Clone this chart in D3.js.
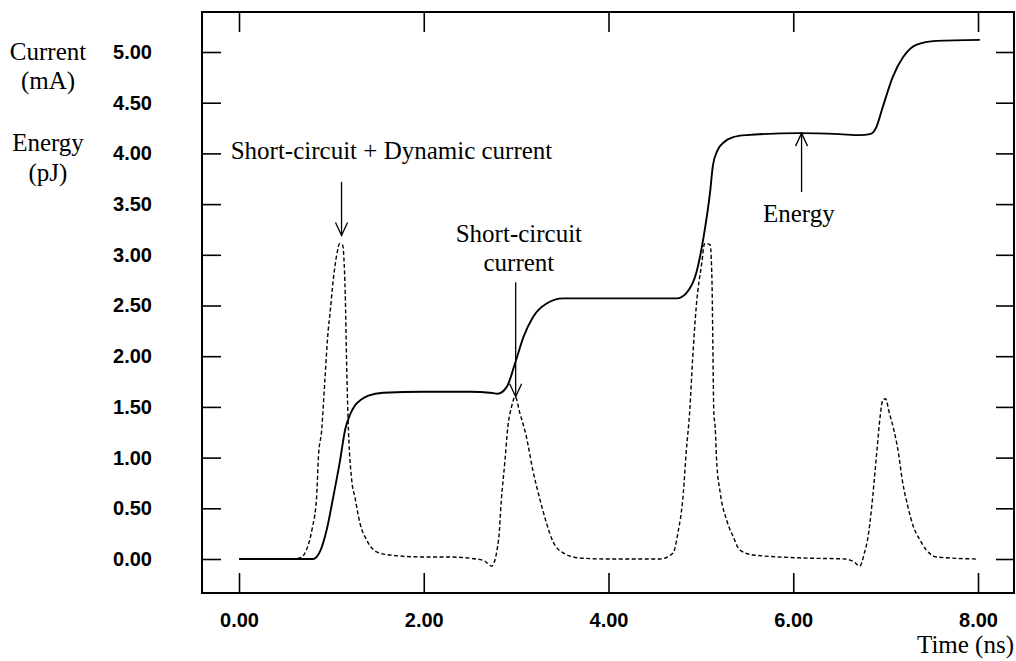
<!DOCTYPE html>
<html>
<head>
<meta charset="utf-8">
<script src="https://cdn.jsdelivr.net/npm/d3@7"></script>
<style>
html,body{margin:0;padding:0;background:#fff;}
svg{display:block;}
</style>
</head>
<body>
<svg id="chart" width="1016" height="661"></svg>
<script>
// ---- data ----
const xTicks = [0, 2, 4, 6, 8];
const yTicks = [0, 0.5, 1, 1.5, 2, 2.5, 3, 3.5, 4, 4.5, 5];

const energyT = [0, 0.8, 0.88, 0.95, 1.02, 1.09, 1.15, 1.20, 1.26, 1.32, 1.40, 1.56, 2.0, 2.5, 2.72, 2.80, 2.90, 2.995, 3.08, 3.185, 3.33, 3.51, 4.0, 4.5, 4.74, 4.84, 4.95, 5.03, 5.10, 5.13, 5.18, 5.25, 5.35, 5.49, 6.07, 6.5, 6.72, 6.83, 6.90, 6.97, 7.08, 7.19, 7.33, 7.55, 8.02];
const energyV = [0, 0, 0.08, 0.29, 0.61, 0.95, 1.28, 1.42, 1.52, 1.57, 1.61, 1.64, 1.65, 1.65, 1.64, 1.63, 1.70, 1.95, 2.19, 2.39, 2.52, 2.57, 2.57, 2.57, 2.57, 2.62, 2.82, 3.18, 3.62, 3.88, 4.03, 4.11, 4.16, 4.18, 4.20, 4.19, 4.18, 4.19, 4.26, 4.46, 4.76, 4.95, 5.07, 5.11, 5.12];

const currentT = [0, 0.58, 0.66, 0.73, 0.79, 0.84, 0.86, 0.895, 0.93, 0.966, 0.985, 1.02, 1.06, 1.09, 1.12, 1.15, 1.165, 1.18, 1.22, 1.255, 1.31, 1.38, 1.49, 1.63, 2.0, 2.25, 2.57, 2.66, 2.735, 2.81, 2.84, 2.88, 2.91, 2.95, 2.99, 3.04, 3.11, 3.18, 3.26, 3.33, 3.40, 3.51, 3.69, 4.0, 4.56, 4.70, 4.75, 4.81, 4.84, 4.88, 4.91, 4.95, 5.01, 5.04, 5.10, 5.12, 5.13, 5.14, 5.155, 5.17, 5.21, 5.28, 5.35, 5.42, 5.57, 6.1, 6.56, 6.66, 6.72, 6.77, 6.81, 6.85, 6.89, 6.91, 6.94, 6.97, 7.00, 7.04, 7.09, 7.14, 7.18, 7.24, 7.30, 7.37, 7.44, 7.55, 7.98];
const currentV = [0, 0, 0.01, 0.09, 0.29, 0.61, 1.01, 1.27, 1.77, 2.26, 2.42, 2.75, 3.01, 3.11, 3.10, 2.62, 1.93, 1.40, 0.78, 0.61, 0.35, 0.19, 0.07, 0.04, 0.02, 0.02, 0.0, -0.02, -0.07, 0.19, 0.58, 0.98, 1.30, 1.50, 1.60, 1.44, 1.21, 0.88, 0.58, 0.35, 0.17, 0.06, 0.01, 0.0, 0.0, 0.06, 0.25, 0.65, 1.04, 1.47, 1.96, 2.49, 2.92, 3.11, 3.10, 2.75, 2.09, 1.44, 1.30, 0.98, 0.65, 0.38, 0.22, 0.09, 0.04, 0.01, 0.0, -0.03, -0.07, 0.06, 0.22, 0.52, 0.91, 1.11, 1.40, 1.57, 1.58, 1.44, 1.27, 1.04, 0.78, 0.52, 0.32, 0.19, 0.09, 0.02, 0.0];

const yTitle = ["Current", "(mA)", "Energy", "(pJ)"];
const xTitle = "Time (ns)";
// annotations: text lines and arrows (in data units)
const annTexts = [
  {t: -0.09, v: 3.94, text: "Short-circuit + Dynamic current", anchor: "start"},
  {t: 3.03, v: 3.13, text: "Short-circuit", anchor: "middle"},
  {t: 3.03, v: 2.84, text: "current", anchor: "middle"},
  {t: 6.06, v: 3.32, text: "Energy", anchor: "middle"}
];
const annArrows = [
  {t: 1.11, from: 3.72, to: 3.19},
  {t: 2.995, from: 2.73, to: 1.60},
  {t: 6.09, from: 3.62, to: 4.20}
];

// ---- layout ----
const svg = d3.select("#chart");
const frame = {left: 202, right: 1014, top: 12, bottom: 593};
const x = d3.scaleLinear().domain([0, 8]).range([239, 978]);
const y = d3.scaleLinear().domain([0, 5]).range([559, 52]);
const fmt = d3.format(".2f");
const serif = "'Liberation Serif','Times New Roman',serif";
const tickFont = "'Liberation Sans',Arial,sans-serif";

// frame
svg.append("rect")
  .attr("x", frame.left).attr("y", frame.top)
  .attr("width", frame.right - frame.left).attr("height", frame.bottom - frame.top)
  .attr("fill", "none").attr("stroke", "#000").attr("stroke-width", 2);

function styleAxis(g) {
  g.select(".domain").remove();
  g.selectAll(".tick line").attr("stroke", "#000").attr("stroke-width", 1.6);
  g.selectAll(".tick text")
    .attr("font-family", tickFont).attr("font-size", 20).attr("font-weight", "bold")
    .attr("fill", "#000");
}

svg.append("g").attr("transform", `translate(${frame.left},0)`)
  .call(d3.axisLeft(y).tickValues(yTicks).tickFormat(fmt).tickSize(-19).tickPadding(50))
  .call(styleAxis);
svg.append("g").attr("transform", `translate(${frame.right},0)`)
  .call(d3.axisRight(y).tickValues(yTicks).tickFormat("").tickSize(-18))
  .call(styleAxis);
svg.append("g").attr("transform", `translate(0,${frame.bottom})`)
  .call(d3.axisBottom(x).tickValues(xTicks).tickFormat(fmt).tickSize(-20).tickPadding(20))
  .call(styleAxis);
svg.append("g").attr("transform", `translate(0,${frame.top})`)
  .call(d3.axisTop(x).tickValues(xTicks).tickFormat("").tickSize(-20))
  .call(styleAxis);

// y titles
const yTitlePos = [60, 89, 151, 181];
svg.append("g").selectAll("text").data(yTitle).join("text")
  .attr("x", 48).attr("y", (d, i) => yTitlePos[i])
  .attr("text-anchor", "middle")
  .attr("font-family", serif).attr("font-size", 25).attr("fill", "#000")
  .text(d => d);

svg.append("text")
  .attr("x", 1014).attr("y", 653).attr("text-anchor", "end")
  .attr("font-family", serif).attr("font-size", 25).attr("fill", "#000")
  .text(xTitle);

// lines
const line = d3.line().x(d => x(d[0])).y(d => y(d[1])).curve(d3.curveMonotoneX);
const energy = energyT.map((t, i) => [t, energyV[i]]);
const current = currentT.map((t, i) => [t, currentV[i]]);

svg.append("path").datum(current)
  .attr("d", line).attr("fill", "none").attr("stroke", "#000")
  .attr("stroke-width", 1.4).attr("stroke-dasharray", "4,2.5");
svg.append("path").datum(energy)
  .attr("d", line).attr("fill", "none").attr("stroke", "#000")
  .attr("stroke-width", 1.9);

// annotations
svg.append("g").selectAll("text").data(annTexts).join("text")
  .attr("x", d => x(d.t)).attr("y", d => y(d.v))
  .attr("text-anchor", d => d.anchor)
  .attr("font-family", serif).attr("font-size", 25).attr("fill", "#000")
  .text(d => d.text);

const ag = svg.append("g").attr("stroke", "#000").attr("fill", "none").attr("stroke-width", 1.3);
annArrows.forEach(a => {
  const ax = x(a.t), y1 = y(a.from), y2 = y(a.to);
  const dir = y2 > y1 ? 1 : -1;
  ag.append("line").attr("x1", ax).attr("x2", ax).attr("y1", y1).attr("y2", y2);
  ag.append("path").attr("d",
    `M${ax - 6},${y2 - dir * 13}L${ax},${y2}L${ax + 6},${y2 - dir * 13}`);
});
</script>
</body>
</html>
